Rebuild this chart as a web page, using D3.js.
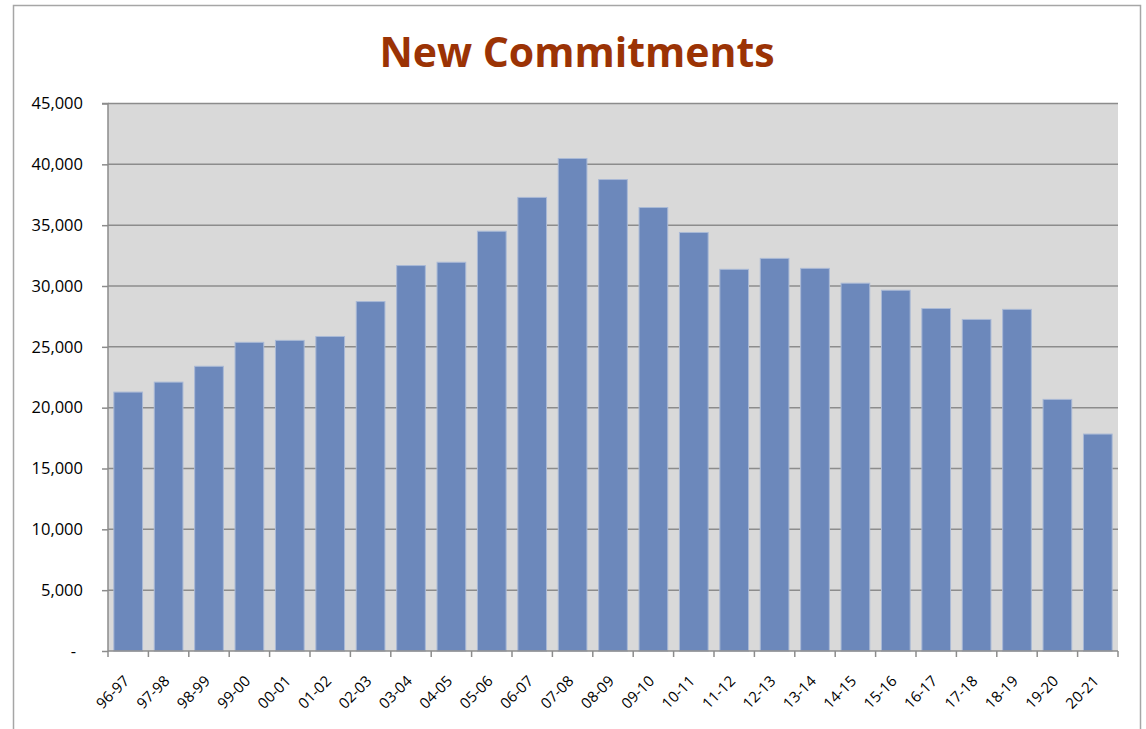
<!DOCTYPE html>
<html><head><meta charset="utf-8">
<script src="https://cdn.jsdelivr.net/npm/d3@7"></script>
<style>body{margin:0;background:#fff}svg{display:block}</style>
</head><body>
<script>
const categories = ["96-97","97-98","98-99","99-00","00-01","01-02","02-03","03-04","04-05","05-06","06-07","07-08","08-09","09-10","10-11","11-12","12-13","13-14","14-15","15-16","16-17","17-18","18-19","19-20","20-21"];
const values = [21280,22100,23400,25370,25530,25850,28720,31680,31950,34500,37280,40480,38750,36450,34400,31370,32270,31450,30230,29650,28150,27250,28080,20680,17830];
const yTicks = [0,5000,10000,15000,20000,25000,30000,35000,40000,45000];
const title = "New Commitments";

const W=1146,H=729;
const svg=d3.select("body").append("svg").attr("width",W).attr("height",H);
const font="'Open Sans', sans-serif";
svg.append("rect").attr("x",13.5).attr("y",5.5).attr("width",1127).attr("height",740).attr("fill","#fff").attr("stroke","#a6a6a6").attr("stroke-width",1.5);

const m={l:108,r:1118,t:103.5,b:651};
const x=d3.scaleBand().domain(categories).range([m.l,m.r]).paddingInner(0.29).paddingOuter(0.145);
const xb=d3.scaleBand().domain(categories).range([m.l,m.r]);
const y=d3.scaleLinear().domain([0,45000]).range([m.b,m.t]);

svg.append("rect").attr("x",m.l).attr("y",m.t).attr("width",m.r-m.l).attr("height",m.b-m.t).attr("fill","#d9d9d9");
svg.append("g").selectAll("line").data(yTicks.filter(d=>d>0)).join("line")
  .attr("x1",m.l).attr("x2",m.r).attr("y1",d=>y(d)).attr("y2",d=>y(d))
  .attr("stroke","#8c8c8c").attr("stroke-width",1.5);

svg.append("g").selectAll("rect").data(values).join("rect")
  .attr("x",(d,i)=>x(categories[i])).attr("width",x.bandwidth())
  .attr("y",d=>y(d)).attr("height",d=>m.b-y(d))
  .attr("fill","#6c88bb").attr("stroke","#a9b9d6").attr("stroke-width",1);

const ya=d3.axisLeft(y).tickValues(yTicks).tickSize(6).tickPadding(19)
  .tickFormat(d=>d===0?"-":d3.format(",")(d));
const gy=svg.append("g").attr("transform",`translate(${m.l},0)`).call(ya);
gy.select(".domain").attr("stroke","#8c8c8c").attr("stroke-width",1.5).attr("d",`M-6,${m.t}H0V${m.b}`);
gy.selectAll(".tick line").attr("stroke","#8c8c8c").attr("stroke-width",1.5);
gy.selectAll(".tick text").attr("font-family",font).attr("font-size",16.5).attr("fill","#000");
gy.selectAll(".tick").filter(d=>d===0).select("text").attr("dx",-7);

const gx=svg.append("g").attr("transform",`translate(0,${m.b})`);
gx.append("line").attr("x1",m.l).attr("x2",m.r).attr("stroke","#8c8c8c").attr("stroke-width",1.5);
const bounds=categories.map(c=>xb(c)).concat([m.r]);
gx.selectAll("line.t").data(bounds).join("line").attr("class","t")
  .attr("x1",d=>d).attr("x2",d=>d).attr("y1",0).attr("y2",6).attr("stroke","#8c8c8c").attr("stroke-width",1.5);
gx.selectAll("text").data(categories).join("text")
  .attr("transform",c=>`translate(${xb(c)+xb.bandwidth()/2+2},${31}) rotate(-45)`)
  .attr("text-anchor","end").attr("font-family",font).attr("font-size",15).attr("fill","#000")
  .text(c=>c);

svg.append("text").attr("x",577).attr("y",66.5).attr("text-anchor","middle")
  .attr("font-family",font).attr("font-weight","bold").attr("font-size",41).attr("fill","#9b3305").text(title);
</script>
</body></html>
